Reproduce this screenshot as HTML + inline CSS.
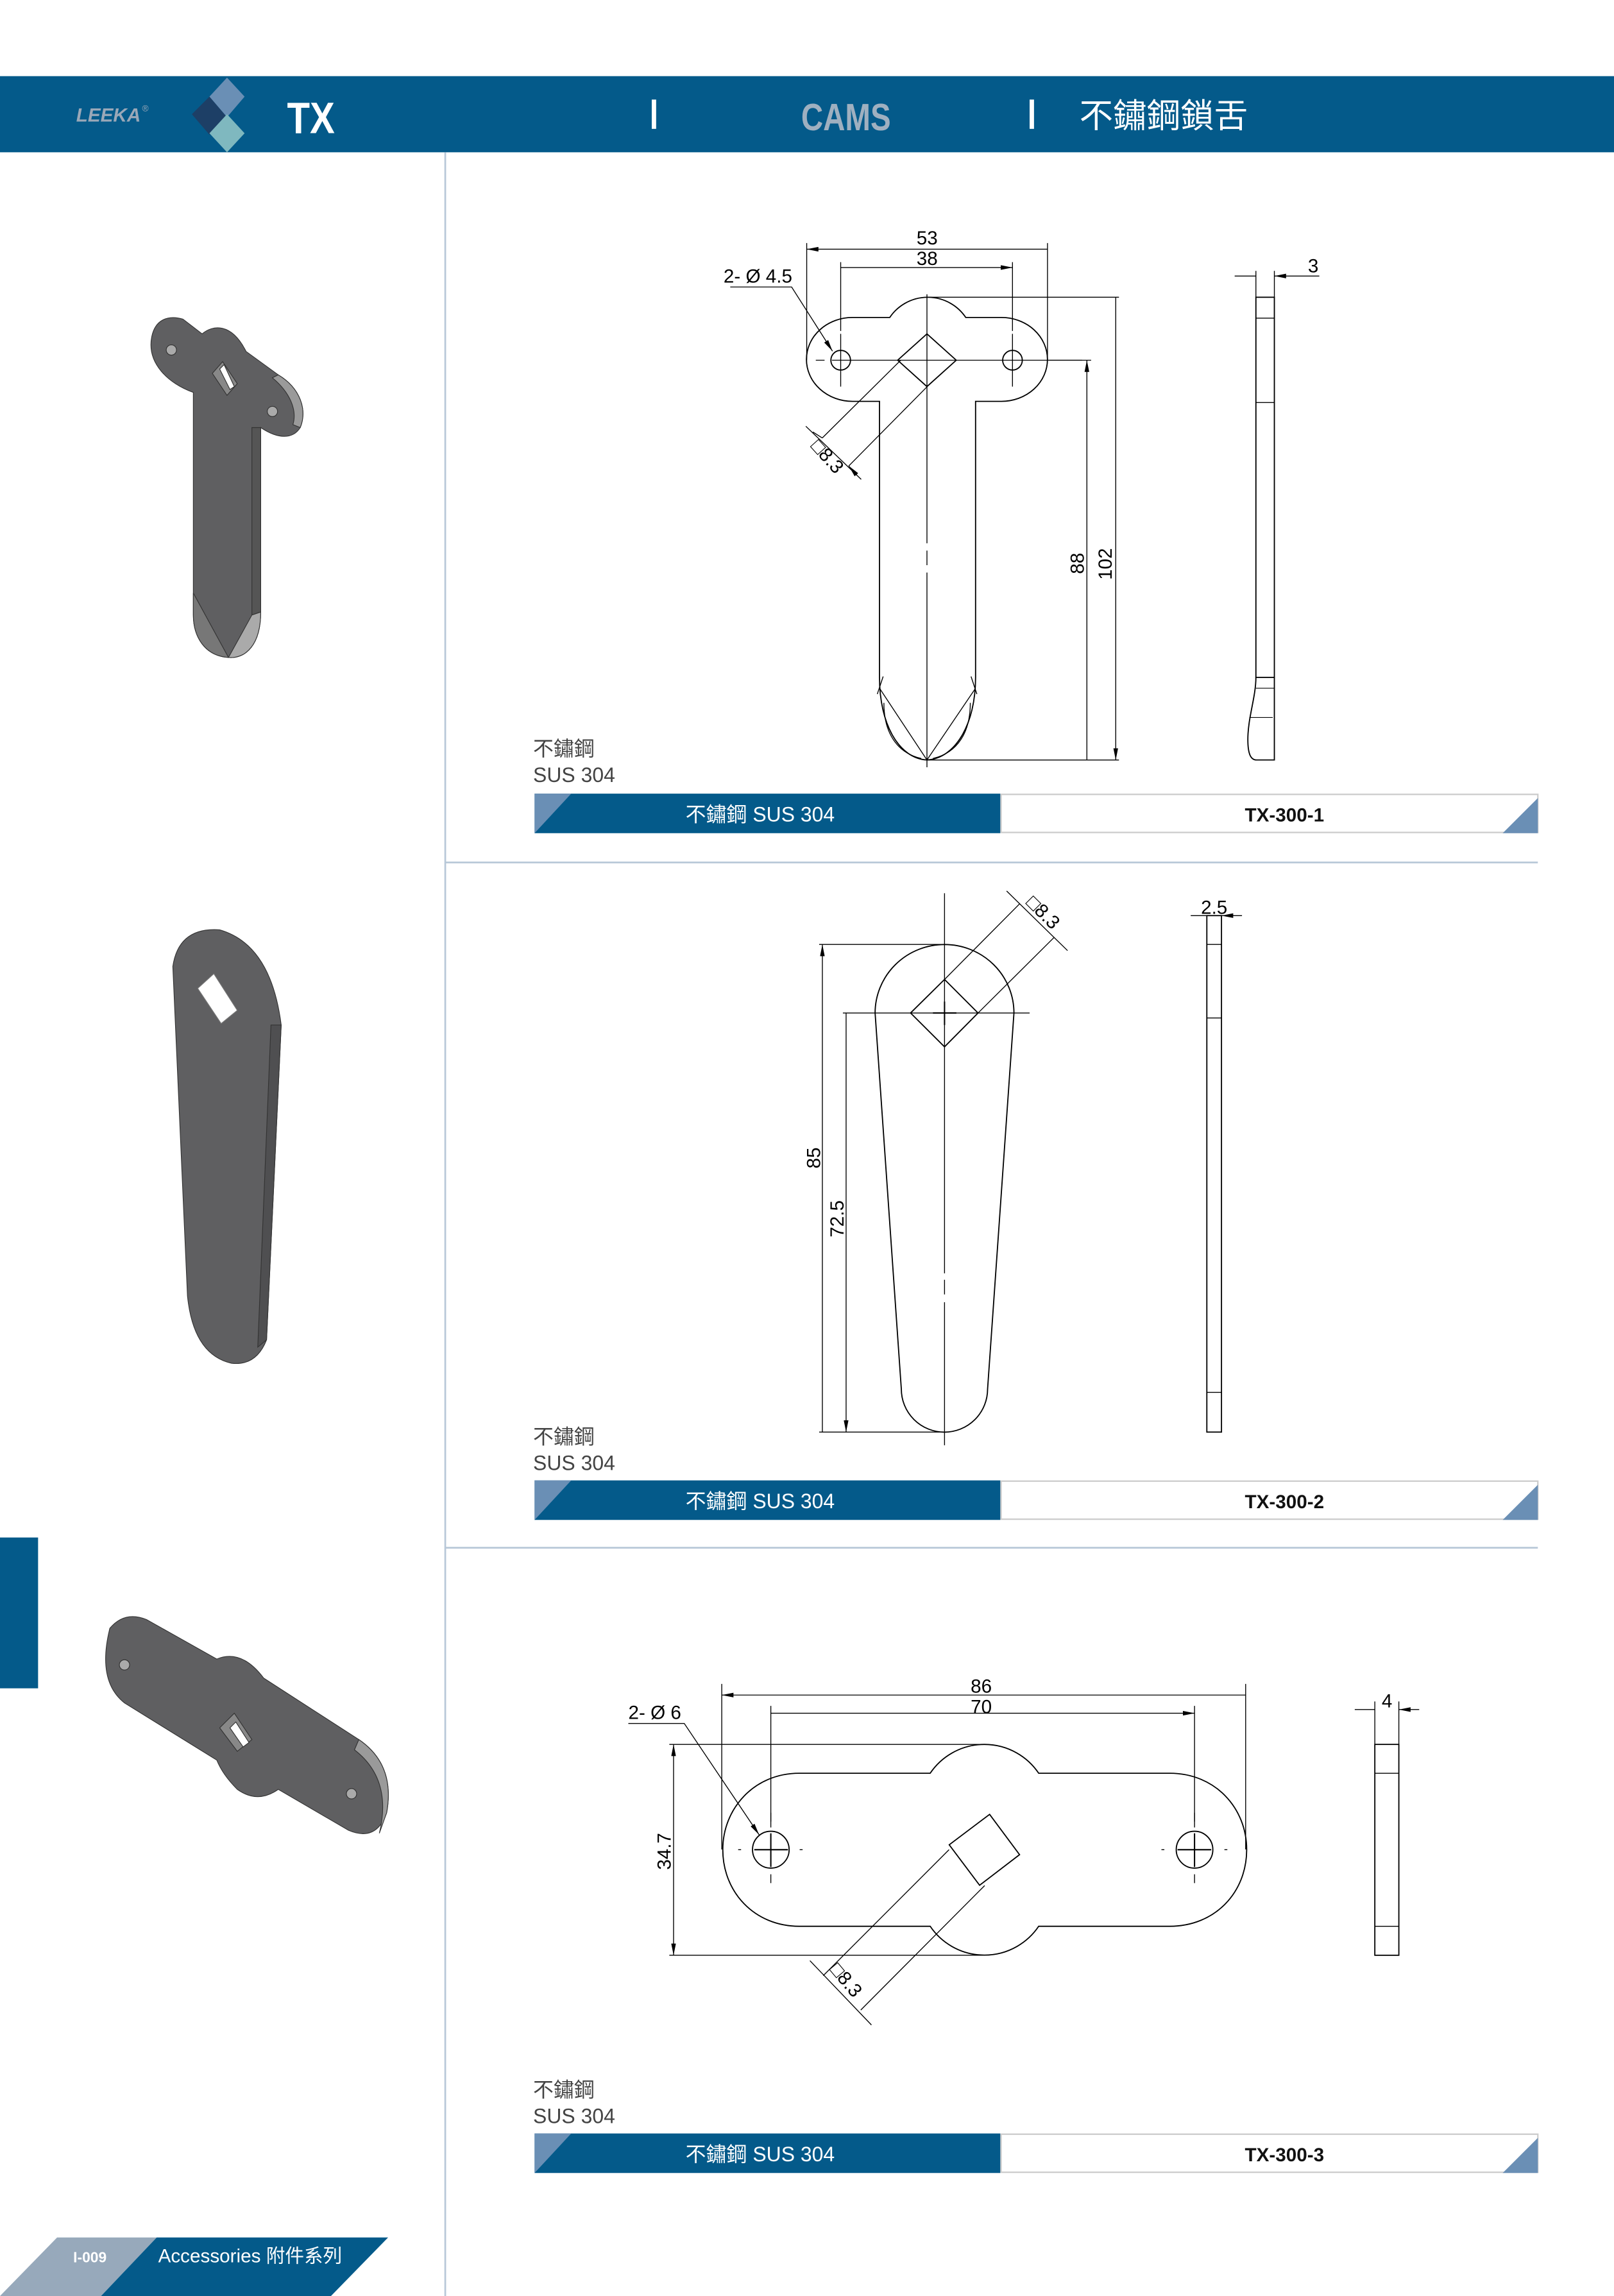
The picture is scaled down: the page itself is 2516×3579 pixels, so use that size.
<!DOCTYPE html>
<html><head><meta charset="utf-8"><style>
html,body{margin:0;padding:0;background:#fff;}
svg{display:block;}
text{font-family:"Liberation Sans","Noto Sans CJK TC",sans-serif;}
</style></head><body>
<svg xmlns="http://www.w3.org/2000/svg" width="2516" height="3579" viewBox="0 0 1102 1568" preserveAspectRatio="none">
<defs>
<marker id="a" viewBox="0 0 10 4" refX="10" refY="2" markerWidth="8" markerHeight="3.2" markerUnits="userSpaceOnUse" orient="auto-start-reverse"><path d="M0,0 L10,2 L0,4 Z" fill="#000"/></marker>
</defs>
<rect width="1102" height="1568" fill="#fff"/>
<!-- header -->
<rect x="0" y="52" width="1102" height="52" fill="#045a8a"/>
<text x="52" y="83" font-size="13" font-style="italic" font-weight="bold" fill="#9aa8b8">LEEKA</text>
<text x="97" y="76" font-size="6" fill="#9aa8b8">®</text>
<polygon points="155,53 167,66 155,80 143,66" fill="#6a8fb5"/>
<polygon points="143,66 155,80 143,92 131,78" fill="#1d3f66"/>
<polygon points="155,78 167,91 155,104 143,91" fill="#7fb8bf"/>
<text x="196" y="91" font-size="30" font-weight="bold" fill="#fff" transform="translate(196 0) scale(0.85 1) translate(-196 0)">TX</text>
<rect x="445" y="68" width="3" height="20" fill="#fff"/>
<text x="547" y="89" font-size="26" font-weight="bold" fill="#9fb0c0" transform="translate(547 0) scale(0.8 1) translate(-547 0)">CAMS</text>
<rect x="703" y="68" width="3" height="20" fill="#fff"/>
<text x="737" y="87" font-size="23" fill="#fff">不鏽鋼鎖舌</text>
<!-- dividers -->
<line x1="304" y1="104" x2="304" y2="1568" stroke="#b8c8d8" stroke-width="1.2"/>
<line x1="304" y1="589" x2="1050" y2="589" stroke="#b8c8d8" stroke-width="1.2"/>
<line x1="304" y1="1057" x2="1050" y2="1057" stroke="#b8c8d8" stroke-width="1.2"/>
<rect x="0" y="1050" width="26" height="103" fill="#045a8a"/>
<!-- footer -->
<polygon points="39,1528 107,1528 69,1568 0,1568" fill="#97a9bb"/>
<polygon points="107,1528 265,1528 226,1568 69,1568" fill="#045a8a"/>
<text x="50" y="1545" font-size="10" font-weight="bold" fill="#fff">I-009</text>
<text x="108" y="1545" font-size="13" fill="#fff">Accessories 附件系列</text>

<!-- 3D parts -->
<g stroke="#333" stroke-width="0.5">
<path d="M132,268 C115,262 100,248 103.6,230 C106,218 115,215 125,218 L138,228 C145,222 158,220 168,240 L190,256 C205,265 210,280 205,292 C200,300 190,300 178,292 L178,418 C178,440 168,450 156,449 C140,448 132,435 132,420 Z" fill="#5f5f61"/>
<path d="M172,292 L178,292 L178,418 L172,420 Z" fill="#555"/>
<path d="M190,256 C205,265 210,280 205,292 L200,290 C203,280 198,268 186,258 Z" fill="#9a9a9a"/>
<path d="M132,405 L156,449 C140,448 132,435 132,420 Z" fill="#777"/>
<path d="M156,449 L172,420 L178,418 C178,440 168,450 156,449 Z" fill="#aaa"/>
<polygon points="145,255 152,247 162,262 155,270" fill="#888"/>
<polygon points="150,252 153,249 160,264 157,266" fill="#fff"/>
<circle cx="117" cy="239" r="3.5" fill="#aaa"/>
<circle cx="186" cy="281" r="3.5" fill="#aaa"/>

<path d="M118,660 Q122,633 150,635 Q185,645 192,700 L182,915 Q175,933 158,931 Q132,925 128,885 Z" fill="#5f5f61"/>
<path d="M185,700 L192,700 L182,915 L176,920 Z" fill="#4f4f51"/>
<polygon points="135,675 146,665 162,690 151,699" fill="#fff" stroke="#777"/>

<path d="M75,1112 Q85,1100 100,1106 L148,1133 Q165,1126 180,1146 L245,1188 Q270,1205 264,1238 Q257,1258 238,1250 L190,1222 Q176,1232 162,1222 Q152,1212 148,1202 L85,1163 Q66,1148 75,1112 Z" fill="#5f5f61"/>
<path d="M245,1188 Q270,1205 264,1238 L259,1252 Q268,1215 242,1195 Z" fill="#9a9a9a"/>
<circle cx="85" cy="1137" r="3.5" fill="#aaa"/>
<circle cx="240" cy="1225" r="3.5" fill="#aaa"/>
<polygon points="150,1180 160,1170 172,1188 162,1196" fill="#888"/>
<polygon points="157,1180 161,1176 170,1190 166,1193" fill="#fff"/>
</g>

<!-- Labels -->
<g font-size="14" fill="#444">
<text x="364" y="516">不鏽鋼</text><text x="364" y="534">SUS 304</text>
<text x="364" y="986">不鏽鋼</text><text x="364" y="1004">SUS 304</text>
<text x="364" y="1432">不鏽鋼</text><text x="364" y="1450">SUS 304</text>
</g>
<g>
<rect x="365" y="542" width="318" height="27" fill="#045a8a"/>
<polygon points="365,542 390,542 365,569" fill="#6a8fb5"/>
<rect x="683.5" y="542.5" width="366.5" height="26" fill="#fff" stroke="#ccc" stroke-width="1"/>
<polygon points="1050,545 1050,569 1026,569" fill="#6a8fb5"/>
<text x="519" y="561" font-size="14" fill="#fff" text-anchor="middle">不鏽鋼 SUS 304</text>
<text x="877" y="561" font-size="13" font-weight="bold" fill="#111" text-anchor="middle">TX-300-1</text>

<rect x="365" y="1011" width="318" height="27" fill="#045a8a"/>
<polygon points="365,1011 390,1011 365,1038" fill="#6a8fb5"/>
<rect x="683.5" y="1011.5" width="366.5" height="26" fill="#fff" stroke="#ccc" stroke-width="1"/>
<polygon points="1050,1014 1050,1038 1026,1038" fill="#6a8fb5"/>
<text x="519" y="1030" font-size="14" fill="#fff" text-anchor="middle">不鏽鋼 SUS 304</text>
<text x="877" y="1030" font-size="13" font-weight="bold" fill="#111" text-anchor="middle">TX-300-2</text>

<rect x="365" y="1457" width="318" height="27" fill="#045a8a"/>
<polygon points="365,1457 390,1457 365,1484" fill="#6a8fb5"/>
<rect x="683.5" y="1457.5" width="366.5" height="26" fill="#fff" stroke="#ccc" stroke-width="1"/>
<polygon points="1050,1460 1050,1484 1026,1484" fill="#6a8fb5"/>
<text x="519" y="1476" font-size="14" fill="#fff" text-anchor="middle">不鏽鋼 SUS 304</text>
<text x="877" y="1476" font-size="13" font-weight="bold" fill="#111" text-anchor="middle">TX-300-3</text>
</g>

<!-- Drawing 1 -->
<g fill="none" stroke="#000" stroke-width="0.8">
<path d="M582,216.8 L607.5,216.8 A31.3,31.3 0 0 1 659.4,216.8 L683.8,216.8 A31.4,28.65 0 0 1 683.8,274.1 L666.1,274.1 L666.1,462.6 C666.1,495 652,518 632.9,519 C614,518 600.5,495 600.5,462.6 L600.5,274.1 L582,274.1 A31.4,28.65 0 0 1 582,216.8 Z"/>
<path d="M600.5,470 L632.9,519 M666.1,470 L632.9,519 M603.5,480 C603.5,500 612,514 629,518 M662.5,480 C662.5,500 654,514 637,518 M599,474 L603,462 M667,474 L663,462" stroke-width="0.6"/>
<circle cx="574" cy="246" r="6.7"/><circle cx="691.3" cy="246" r="6.7"/>
<polygon points="632.9,228 652.9,246 632.9,264 612.9,246"/>
<path d="M632.9,201 L632.9,371 M632.9,376 L632.9,386 M632.9,391 L632.9,524" stroke-width="0.6"/>
<path d="M557,246 L563,246 M568,246 L738.8,246" stroke-width="0.6"/>
<path d="M574,228 L574,264 M691.3,228 L691.3,264 M574,179 L574,226 M691.3,179 L691.3,226" stroke-width="0.6"/>
<path d="M550.8,166 L550.8,246 M715.2,166 L715.2,246" stroke-width="0.6"/>
<path d="M550.8,170.2 L715.2,170.2 M574,182.7 L691.3,182.7" marker-start="url(#a)" marker-end="url(#a)" stroke-width="0.6"/>
<path d="M615,246 L561.4,299.1 M633,264.1 L579.5,318.2" stroke-width="0.6"/>
<path d="M550.2,291.1 L588,327.4" stroke-width="0.6"/>
<path d="M555,295 L561.4,299.1 M585,324.5 L579.5,318.2" marker-end="url(#a)" stroke-width="0.6"/>
<path d="M742.1,246 L742.1,519 M761.8,203 L761.8,519" marker-start="url(#a)" marker-end="url(#a)" stroke-width="0.6"/>
<path d="M632.9,203 L764,203 M716,246 L745,246 M632.9,519 L764,519" stroke-width="0.6"/>
<path d="M498.6,196 L540.5,196 L568.4,239.8" stroke-width="0.6" marker-end="url(#a)"/>
<rect x="857.5" y="203" width="12.6" height="259.6"/>
<path d="M857.5,217.3 L870.1,217.3 M857.5,274.9 L870.1,274.9" stroke-width="0.6"/>
<path d="M857.5,462.6 C857.5,476 852,490 852,505 C852,515 854,519 858,519 L870.1,519 L870.1,462.6"/>
<path d="M857.5,470 L870.1,470 M853,490 L869,490" stroke-width="0.5"/>
<path d="M857.5,185 L857.5,203 M870.1,185 L870.1,203" stroke-width="0.6"/>
<path d="M843,188.5 L857.5,188.5 M900.8,188.5 L870.1,188.5" marker-end="url(#a)" stroke-width="0.6"/>
</g>
<g font-size="13" fill="#000">
<text x="633" y="167" text-anchor="middle">53</text>
<text x="633" y="181" text-anchor="middle">38</text>
<text x="494" y="193">2- Ø 4.5</text>
<text x="893" y="186">3</text>
<text transform="translate(740 392) rotate(-90)">88</text>
<text transform="translate(759 396) rotate(-90)">102</text>
<text transform="translate(553 305) rotate(48)">□8.3</text>
</g>

<!-- Drawing 2 -->
<g fill="none" stroke="#000" stroke-width="0.8">
<path d="M597.5,691.8 A47.4,46.8 0 0 1 692.3,691.8 L674.3,948.6 A29.4,29.4 0 0 1 615.4,948.6 Z"/>
<polygon points="644.9,668.9 667.8,691.8 644.9,714.9 621.7,691.8"/>
<path d="M575.5,691.8 L703,691.8 M644.9,610 L644.9,869.6 M644.9,874 L644.9,884 M644.9,889.3 L644.9,987" stroke-width="0.6"/>
<path d="M637,691.8 L653,691.8 M644.9,684 L644.9,700" stroke-width="0.9"/>
<path d="M561.5,645 L561.5,978 M577.7,691.8 L577.7,978" marker-start="url(#a)" marker-end="url(#a)" stroke-width="0.6"/>
<path d="M559.3,645 L644.9,645 M559.3,978 L644.9,978" stroke-width="0.6"/>
<path d="M644.9,668.9 L696.3,617.1 M667.8,691.8 L719.9,640" stroke-width="0.6"/>
<path d="M687.3,608.5 L728.9,649.2" stroke-width="0.6"/>
<rect x="824" y="625.3" width="10" height="352.7"/>
<path d="M824,645 L834,645 M824,695.2 L834,695.2 M824,950.9 L834,950.9" stroke-width="0.6"/>
<path d="M813,625.3 L824,625.3 M848,625.3 L834,625.3" marker-end="url(#a)" stroke-width="0.6"/>
</g>
<g font-size="13" fill="#000">
<text x="829" y="624" text-anchor="middle">2.5</text>
<text transform="translate(560 798) rotate(-90)">85</text>
<text transform="translate(576 845) rotate(-90)">72.5</text>
<text transform="translate(700 617) rotate(45)">□8.3</text>
</g>

<!-- Drawing 3 -->
<g fill="none" stroke="#000" stroke-width="0.8">
<path d="M545.7,1211 L635.1,1211 A44.7,44.7 0 0 1 709.2,1211 L798.6,1211 C830,1211 851.2,1235 851.2,1263.2 C851.2,1292 830,1315.5 798.6,1315.5 L709.2,1315.5 A44.7,44.7 0 0 1 635.1,1315.5 L545.7,1315.5 C515,1315.5 493.5,1292 493.5,1263.2 C493.5,1235 515,1211 545.7,1211 Z"/>
<ellipse cx="526.3" cy="1263.2" rx="12.5" ry="12.6"/>
<ellipse cx="815.6" cy="1263.2" rx="12.5" ry="12.6"/>
<path d="M515,1263.2 L538,1263.2 M804,1263.2 L827,1263.2 M526.3,1252 L526.3,1275 M815.6,1252 L815.6,1275" stroke-width="0.9"/>
<path d="M504,1263.2 L506,1263.2 M546,1263.2 L548,1263.2 M793,1263.2 L795,1263.2 M836,1263.2 L838,1263.2 M526.3,1280 L526.3,1286 M815.6,1280 L815.6,1286 M526.3,1238 L526.3,1244 M815.6,1238 L815.6,1244" stroke-width="0.6"/>
<polygon points="672.3,1238.8 696.4,1263.2 672.3,1287.7 647.9,1263.2" transform="rotate(8 672 1263)"/>
<path d="M492.8,1150 L492.8,1263 M850.5,1150 L850.5,1263 M526.3,1165 L526.3,1248 M815.6,1165 L815.6,1248" stroke-width="0.6"/>
<path d="M492.8,1157.6 L850.5,1157.6 M526.3,1170 L815.6,1170" marker-start="url(#a)" marker-end="url(#a)" stroke-width="0.6"/>
<path d="M648,1263.2 L562.1,1349.2 M672.3,1287.7 L587.7,1372.7" stroke-width="0.6"/>
<path d="M553,1339 L595,1382.9" stroke-width="0.6"/>
<path d="M459.9,1191.3 L459.9,1335.3" marker-start="url(#a)" marker-end="url(#a)" stroke-width="0.6"/>
<path d="M457,1191.3 L672,1191.3 M457,1335.3 L672,1335.3" stroke-width="0.6"/>
<path d="M429,1177 L467.2,1177 L518.3,1253" stroke-width="0.6" marker-end="url(#a)"/>
<rect x="938.7" y="1191.3" width="16.4" height="144"/>
<path d="M938.7,1211 L955.1,1211 M938.7,1315.5 L955.1,1315.5" stroke-width="0.6"/>
<path d="M938.7,1162 L938.7,1191 M955.1,1162 L955.1,1191" stroke-width="0.6"/>
<path d="M925,1167.5 L938.7,1167.5 M969,1167.5 L955.1,1167.5" marker-end="url(#a)" stroke-width="0.6"/>
</g>
<g font-size="13" fill="#000">
<text x="670" y="1156" text-anchor="middle">86</text>
<text x="670" y="1170" text-anchor="middle">70</text>
<text x="429" y="1174">2- Ø 6</text>
<text x="947" y="1166" text-anchor="middle">4</text>
<text transform="translate(458 1277) rotate(-90)">34.7</text>
<text transform="translate(566 1345) rotate(50)">□8.3</text>
</g>
</svg>
</body></html>
